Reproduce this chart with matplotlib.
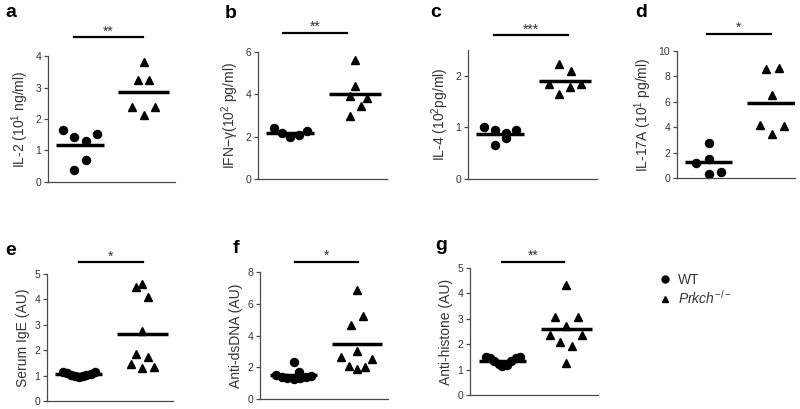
import numpy as np
import matplotlib
matplotlib.use('Agg')
import matplotlib.pyplot as plt
from matplotlib.lines import Line2D

# ── Style ─────────────────────────────────────────────────────────────────────
plt.rcParams['font.family'] = ['Liberation Sans', 'DejaVu Sans']
plt.rcParams['mathtext.fontset'] = 'custom'
plt.rcParams['mathtext.rm'] = 'Liberation Sans'
plt.rcParams['mathtext.it'] = 'Liberation Sans:italic'
AX_COL = '#4a4a4a'
TXT_COL = '#333333'

# ── Data ──────────────────────────────────────────────────────────────────────
# x offsets are horizontal jitter around the group centre (WT = 1, KO = 2)
il2_wt    = [1.64, 1.42, 1.31, 1.51, 0.71, 0.37]
il2_wt_dx = [-0.27, -0.09, 0.09, 0.27, 0.09, -0.09]
il2_ko    = [3.80, 3.24, 3.24, 2.37, 2.37, 2.13]
il2_ko_dx = [0.0, -0.09, 0.09, -0.18, 0.18, 0.0]

ifn_wt    = [2.39, 2.15, 1.99, 2.07, 2.26]
ifn_wt_dx = [-0.25, -0.125, 0.0, 0.125, 0.25]
ifn_ko    = [5.61, 4.38, 3.91, 3.82, 3.47, 2.97]
ifn_ko_dx = [0.0, 0.0, -0.08, 0.18, 0.09, -0.08]

il4_wt    = [1.01, 0.94, 0.90, 0.95, 0.66, 0.80]
il4_wt_dx = [-0.25, -0.08, 0.09, 0.25, -0.08, 0.09]
il4_ko    = [2.22, 2.10, 1.84, 1.78, 1.84, 1.64]
il4_ko_dx = [-0.09, 0.09, -0.25, 0.08, 0.25, -0.09]

il17_wt    = [1.17, 2.72, 1.49, 0.34, 0.44]
il17_wt_dx = [-0.2, 0.0, 0.0, 0.0, 0.2]
il17_ko    = [8.62, 8.69, 6.55, 4.20, 4.10, 3.45]
il17_ko_dx = [-0.09, 0.1, 0.0, -0.19, 0.19, 0.0]

ige_wt    = [1.14, 1.10, 1.03, 0.98, 0.95, 0.97, 1.02, 1.08, 1.14]
ige_wt_dx = [-0.25, -0.19, -0.12, -0.06, 0.0, 0.06, 0.12, 0.19, 0.25]
ige_ko    = [4.50, 4.59, 4.11, 2.76, 1.84, 1.74, 1.47, 1.28, 1.32]
ige_ko_dx = [-0.1, 0.0, 0.09, 0.0, -0.1, 0.09, -0.18, 0.0, 0.18]

dsdna_wt    = [2.33, 1.72, 1.50, 1.40, 1.30, 1.25, 1.30, 1.40, 1.45]
dsdna_wt_dx = [0.0, 0.08, -0.28, -0.19, -0.1, 0.0, 0.1, 0.19, 0.28]
dsdna_ko    = [6.89, 5.25, 4.66, 3.00, 2.63, 2.52, 2.06, 1.91, 2.00]
dsdna_ko_dx = [0.0, 0.09, -0.09, 0.0, -0.25, 0.24, -0.13, 0.0, 0.12]

hist_wt    = [1.50, 1.46, 1.35, 1.22, 1.16, 1.20, 1.33, 1.45, 1.48]
hist_wt_dx = [-0.26, -0.2, -0.13, -0.06, 0.0, 0.07, 0.14, 0.21, 0.27]
hist_ko    = [4.34, 3.09, 3.09, 2.72, 2.38, 2.38, 2.07, 1.93, 1.25]
hist_ko_dx = [0.0, -0.18, 0.18, 0.0, -0.25, 0.25, -0.09, 0.09, 0.0]

ylabels = ['IL-2 (10$^1$ ng/ml)', 'IFN\u2212\u03b3(10$^2$ pg/ml)', 'IL-4 (10$^2$pg/ml)',
           'IL-17A (10$^1$ pg/ml)', 'Serum IgE (AU)', 'Anti-dsDNA (AU)', 'Anti-histone (AU)']
stars = ['**', '**', '***', '*', '*', '*', '**']
letters = ['a', 'b', 'c', 'd', 'e', 'f', 'g']

panels = [
    (il2_wt, il2_wt_dx, il2_ko, il2_ko_dx, 4, [0, 1, 2, 3, 4]),
    (ifn_wt, ifn_wt_dx, ifn_ko, ifn_ko_dx, 6, [0, 2, 4, 6]),
    (il4_wt, il4_wt_dx, il4_ko, il4_ko_dx, 2.5, [0, 1, 2]),
    (il17_wt, il17_wt_dx, il17_ko, il17_ko_dx, 10, [0, 2, 4, 6, 8, 10]),
    (ige_wt, ige_wt_dx, ige_ko, ige_ko_dx, 5, [0, 1, 2, 3, 4, 5]),
    (dsdna_wt, dsdna_wt_dx, dsdna_ko, dsdna_ko_dx, 8, [0, 2, 4, 6, 8]),
    (hist_wt, hist_wt_dx, hist_ko, hist_ko_dx, 5, [0, 1, 2, 3, 4, 5]),
]

# ── Layout (pixel boxes: left, top, right, bottom) ───────────────────────────
W, H = 800, 409
boxes = [(48, 56, 175, 182), (258, 52, 387, 179), (468, 50, 597, 179), (677, 51, 795, 178),
         (47, 274, 173, 401), (260, 272, 388, 399), (470, 268, 598, 395)]
xlims = [(0.5, 2.49), (0.5, 2.49), (0.5, 2.5), (0.5, 2.36), (0.5, 2.48), (0.47, 2.49), (0.49, 2.5)]
sig_bars = [(0.91, 1.99, 1.15), (0.89, 1.88, 1.15), (0.9, 2.05, 1.116), (0.97, 1.98, 1.134),
            (1.0, 2.01, 1.094), (1.03, 2.01, 1.08), (1.0, 1.97, 1.05)]
letter_pos = [(5, 17), (225, 18), (430, 17), (635, 17), (5, 255), (233, 253), (435, 250)]

fig = plt.figure(figsize=(8, 4.09), dpi=100)

for i, (wt, wdx, ko, kdx, ytop, yt) in enumerate(panels):
    l, t, r, b = boxes[i]
    ax = fig.add_axes([l / W, 1 - b / H, (r - l) / W, (b - t) / H])

    ax.plot(1 + np.array(wdx), wt, 'o', color='black', ms=5.8, mec='black', clip_on=False)
    ax.plot(2 + np.array(kdx), ko, '^', color='black', ms=6.3, mec='black', clip_on=False)
    ax.plot([1 - 0.37, 1 + 0.37], [np.mean(wt)] * 2, color='black', lw=2.5, solid_capstyle='butt')
    ax.plot([2 - 0.4, 2 + 0.4], [np.mean(ko)] * 2, color='black', lw=2.5, solid_capstyle='butt')

    ax.set_xlim(*xlims[i])
    ax.set_ylim(0, ytop)
    ax.set_yticks(yt)
    ax.set_xticks([])
    for s in ['top', 'right']:
        ax.spines[s].set_visible(False)
    for s in ['left', 'bottom']:
        ax.spines[s].set_color(AX_COL)
        ax.spines[s].set_linewidth(0.9)
    ax.tick_params(axis='y', direction='out', length=3, width=0.9, color=AX_COL,
                   labelsize=7.5, labelcolor=TXT_COL, pad=2)
    ax.set_ylabel(ylabels[i], fontsize=10, color=TXT_COL, labelpad=3)

    # significance bar
    x0, x1, yb = sig_bars[i]
    ax.plot([x0, x1], [yb, yb], color='black', lw=1.6, transform=ax.get_xaxis_transform(),
            clip_on=False)
    ax.text((x0 + x1) / 2, yb - 0.01, stars[i], transform=ax.get_xaxis_transform(),
            ha='center', va='bottom', fontsize=10, color=TXT_COL)

    lx, ly = letter_pos[i]
    fig.text(lx / W, 1 - ly / H, letters[i], fontsize=14, fontweight='bold', va='baseline')

# ── Legend ────────────────────────────────────────────────────────────────────
handles = [Line2D([], [], marker='o', ls='', color='black', ms=5),
           Line2D([], [], marker='^', ls='', color='black', ms=5)]
fig.legend(handles, ['WT', r'$\it{Prkch}^{-/-}$'], loc='upper left',
           bbox_to_anchor=(654 / W, 1 - 266 / H), frameon=False, fontsize=10,
           handlelength=0.6, handletextpad=0.6, labelspacing=0.15, borderpad=0,
           labelcolor=TXT_COL)

fig.savefig('out.png', dpi=100)
